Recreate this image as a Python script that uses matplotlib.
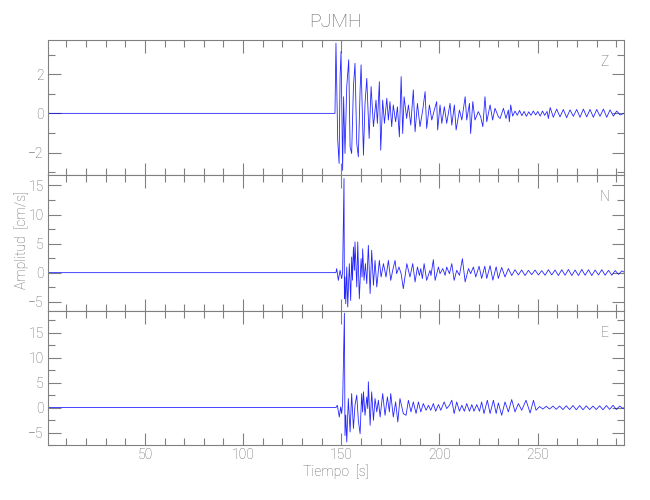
import matplotlib
matplotlib.use("Agg")
import matplotlib.pyplot as plt
from matplotlib.ticker import MultipleLocator

# station / labels
station = "PJMH"
components = ["Z", "N", "E"]

# Z component: time [s] and amplitude [cm/s] at the extrema
t_z = [0.5, 146.8, 147.3, 148.2, 148.9, 149.4, 149.9, 150.7, 151.2, 151.9, 152.8, 153.8,
       154.5, 155.3, 156.2, 157.0, 157.9, 158.7, 159.6, 160.1, 161.3, 162.1, 163.0, 164.2,
       165.2, 166.4, 167.7, 168.4, 169.4, 170.1, 171.1, 172.0, 173.2, 174.0, 174.8, 175.7,
       176.5, 177.7, 178.6, 179.6, 180.5, 181.3, 182.0, 183.3, 184.2, 185.4, 186.7, 187.6,
       188.8, 190.1, 191.5, 192.7, 193.5, 194.9, 196.1, 197.4, 198.6, 199.1, 200.3, 201.2,
       202.5, 203.7, 205.4, 206.3, 207.6, 208.5, 210.2, 211.4, 213.1, 213.9, 215.3, 215.9,
       217.0, 218.1, 219.8, 221.0, 222.1, 223.2, 224.1, 225.8, 227.1, 228.3, 230.0, 230.9,
       232.6, 233.9, 235.1, 235.6, 236.3, 237.3, 238.5, 239.6, 240.8, 242.0, 243.1, 244.3,
       245.5, 246.6, 247.8, 249.0, 250.1, 251.3, 252.5, 253.6, 254.8, 255.5, 256.4, 258.0,
       259.7, 261.4, 263.1, 264.8, 266.5, 268.2, 269.9, 271.6, 273.3, 275.0, 276.7, 278.4,
       280.1, 281.8, 283.5, 285.2, 286.9, 288.6, 290.3, 292.0, 294.0]
a_z = [0.0, 0.0, 3.59, -1.37, -2.56, 1.88, 3.16, -2.91, 0.85, -2.05, 1.37, 2.74,
       -1.71, -2.05, 1.37, 2.56, -1.54, -2.22, 1.2, 2.48, -2.14, 0.51, 1.79, -1.28,
       1.37, -0.68, 0.68, -0.51, 1.62, -1.88, 0.68, -0.51, 0.77, -0.34, 0.6, -0.68,
       0.43, -0.43, 0.34, -1.2, 1.88, -1.03, 0.85, -0.26, 0.43, -0.6, 1.2, -0.94,
       0.51, -0.68, 0.17, 1.11, -0.77, 0.43, -0.34, 0.17, 0.6, -0.85, 0.43, -0.51,
       0.34, -0.51, 0.51, -0.6, 0.43, -0.85, 0.17, -0.34, 0.85, -0.34, 0.51, -1.03,
       0.6, -0.34, 0.09, -0.17, -0.68, 0.85, -0.43, 0.43, -0.34, 0.26, -0.17, -0.26,
       0.26, -0.26, 0.17, -0.43, 0.43, -0.14, 0.12, -0.1, 0.15, -0.12, 0.1, -0.15,
       0.08, -0.1, 0.12, -0.08, 0.1, -0.14, 0.12, -0.1, 0.1, -0.26, 0.3, -0.2,
       0.22, -0.18, 0.2, -0.22, 0.18, -0.15, 0.2, -0.2, 0.22, -0.18, 0.2, -0.2,
       0.2, -0.15, 0.22, -0.2, 0.18, -0.14, 0.12, -0.08, 0.0]

# N component
t_n = [0.5, 147.3, 147.7, 148.5, 149.4, 150.2, 150.7, 151.4, 151.6, 151.9, 152.3, 152.8,
       153.3, 154.1, 154.8, 155.3, 155.7, 156.2, 156.7, 157.0, 157.9, 158.4, 159.2, 160.1,
       160.6, 160.9, 161.6, 162.3, 163.0, 163.8, 164.7, 165.5, 166.4, 167.2, 168.1, 169.4,
       170.3, 171.5, 172.8, 174.0, 175.2, 176.2, 177.4, 178.2, 179.4, 180.5, 181.6, 183.4,
       185.0, 186.4, 187.6, 188.8, 189.8, 190.5, 191.3, 192.2, 193.5, 195.2, 195.7, 196.9,
       197.8, 199.5, 200.3, 201.7, 202.9, 203.7, 205.1, 206.3, 207.5, 208.8, 210.2, 211.7,
       213.1, 214.8, 215.9, 217.3, 218.5, 220.2, 221.5, 223.1, 224.1, 225.8, 227.2, 228.9,
       230.0, 231.7, 233.4, 235.1, 236.8, 238.5, 240.2, 241.9, 243.6, 245.3, 247.0, 248.7,
       250.4, 252.1, 253.8, 255.5, 257.2, 258.9, 260.6, 262.3, 264.0, 265.7, 267.4, 269.1,
       270.8, 272.5, 274.2, 275.9, 277.6, 279.3, 281.0, 282.7, 284.4, 286.1, 287.8, 289.5,
       291.2, 292.9, 294.0]
a_n = [0.0, 0.0, 0.7, -1.33, 0.4, -1.04, 0.1, 16.2, -4.5, -0.75, -5.35, 0.97,
       -5.9, 1.55, -4.78, 2.7, -1.3, 4.4, 0.4, 5.28, -2.47, 5.28, -4.5, 2.4,
       -0.75, 4.1, -1.33, 1.55, -1.9, 4.7, -3.6, 3.84, -2.18, 2.1, -2.47, 2.1,
       -0.75, 1.55, -0.75, 2.1, -1.33, 0.4, 2.1, -0.18, 0.97, -0.2, -2.76, 1.55,
       -0.75, 1.55, -1.6, 0.97, -0.5, 0.7, -1.04, 1.55, -1.33, 0.4, -0.5, 2.24,
       -1.33, 0.97, -0.18, 0.7, -0.47, 0.97, -0.18, 1.55, -1.33, 0.4, -0.47, 2.4,
       -1.6, 0.7, -0.18, 0.97, -0.75, 1.1, -1.0, 1.1, -1.0, 1.2, -1.3, 1.0,
       -1.0, 0.9, -0.75, 0.7, -0.5, 0.5, -0.4, 0.45, -0.5, 0.4, -0.35, 0.45,
       -0.4, 0.35, -0.45, 0.5, -0.4, 0.45, -0.5, 0.5, -0.45, 0.55, -0.5, 0.45,
       -0.5, 0.55, -0.45, 0.5, -0.5, 0.45, -0.4, 0.5, -0.45, 0.4, -0.45, 0.35,
       -0.3, 0.3, 0.1]

# E component
t_e = [0.5, 147.3, 148.0, 149.0, 149.7, 150.2, 150.7, 151.6, 151.9, 152.3, 152.8, 153.6,
       154.5, 155.3, 156.2, 157.0, 157.9, 158.7, 159.6, 160.4, 160.9, 161.3, 162.1, 163.0,
       163.5, 163.8, 164.7, 165.5, 166.4, 167.2, 168.1, 168.9, 169.8, 171.1, 172.3, 173.5,
       174.5, 175.2, 176.5, 177.7, 178.8, 179.9, 181.6, 183.0, 184.2, 185.5, 186.7, 188.1,
       189.3, 190.5, 191.8, 193.2, 194.4, 195.6, 196.9, 198.1, 199.5, 200.7, 202.4, 203.7,
       205.1, 206.3, 207.5, 208.8, 210.2, 211.4, 212.7, 213.9, 215.3, 216.5, 217.6, 219.0,
       220.4, 221.5, 222.7, 224.4, 225.8, 227.5, 228.9, 230.0, 231.7, 233.4, 235.1, 236.8,
       238.5, 240.2, 241.9, 244.1, 246.2, 247.9, 249.2, 251.0, 252.7, 254.4, 256.1, 257.8,
       259.5, 261.2, 262.9, 264.6, 266.3, 268.0, 269.7, 271.4, 273.1, 274.8, 276.5, 278.2,
       279.9, 281.6, 283.3, 285.0, 286.7, 288.4, 290.1, 291.8, 293.5, 294.0]
a_e = [0.0, 0.0, 0.46, -1.89, 0.13, -1.2, 0.8, 18.9, -5.6, -1.5, -6.9, 1.8,
       -4.9, 2.8, -4.2, 0.46, 2.5, -2.56, -5.25, 2.8, -0.9, 3.15, -1.55, 2.14,
       -0.2, 5.17, -3.56, 3.15, -2.56, 1.8, -0.87, 1.47, -1.89, 2.8, -1.55, 2.14,
       -0.87, 2.8, -1.89, 1.13, -2.9, 1.8, -1.2, -1.55, 1.47, -0.87, 1.13, -1.2,
       1.13, -0.87, 0.8, -0.54, 0.46, -0.54, 0.8, -0.74, 0.6, -0.54, 1.13, -0.2,
       0.46, 1.47, -1.2, 1.13, -0.74, 0.46, -0.74, 0.8, -0.74, 0.6, -0.74, 0.6,
       -0.74, 1.13, -1.2, 1.47, -1.2, 1.47, -1.2, 0.93, -1.55, 1.13, -0.87, 1.6,
       -0.87, 0.8, -0.54, 1.47, -1.08, 1.47, -0.54, 0.2, -0.3, 0.25, -0.3, 0.3,
       -0.35, 0.3, -0.4, 0.35, -0.4, 0.4, -0.45, 0.4, -0.45, 0.35, -0.4, 0.3,
       -0.4, 0.35, -0.45, 0.4, -0.35, 0.45, -0.4, 0.3, -0.2, 0.0]

times = [t_z, t_n, t_e]
amps = [a_z, a_n, a_e]
y_limits = [(-3.15, 3.75), (-6.55, 16.8), (-7.5, 19.4)]
y_major = [2, 5, 5]
y_minor = [1, 2.5, 2.5]

gray = "#808080"
text_gray = "#606060"
plt.rcParams["font.family"] = ["Roboto", "DejaVu Sans"]
plt.rcParams["font.weight"] = "light"

fig = plt.figure(figsize=(6.5, 5), dpi=100)
left, width = 0.0734, 0.8866
bottoms = [0.65, 0.3786, 0.11]
heights = [0.27, 0.2714, 0.2686]

for i in range(3):
    ax = fig.add_axes([left, bottoms[i], width, heights[i]])
    ax.plot(times[i], amps[i], color="blue", lw=0.6, alpha=0.85)
    ax.set_xlim(0.5, 294)
    ax.set_ylim(*y_limits[i])
    ax.xaxis.set_major_locator(MultipleLocator(50))
    ax.xaxis.set_minor_locator(MultipleLocator(10))
    ax.yaxis.set_major_locator(MultipleLocator(y_major[i]))
    ax.yaxis.set_minor_locator(MultipleLocator(y_minor[i]))
    ax.tick_params(which="both", direction="in", top=True, right=True,
                   color=gray, labelcolor=text_gray, labelsize=10, width=0.8, pad=3)
    ax.tick_params(axis="x", pad=2)
    ax.tick_params(which="major", length=9)
    ax.tick_params(which="minor", length=5)
    for s in ax.spines.values():
        s.set_color(gray)
        s.set_linewidth(0.8)
    if i < 2:
        ax.tick_params(labelbottom=False)
    ax.text(0.967, 0.837, components[i], transform=ax.transAxes,
            color=text_gray, fontsize=10, ha="center", va="center")

fig.text(0.516, 0.956, station, color=text_gray, fontsize=14, ha="center", va="center")
fig.text(0.033, 0.52, "Amplitud  [cm/s]", color=text_gray, fontsize=10,
         rotation=90, ha="center", va="center")
fig.text(0.516, 0.056, "Tiempo  [s]", color=text_gray, fontsize=10,
         ha="center", va="center")

plt.savefig("out.png", dpi=100)
